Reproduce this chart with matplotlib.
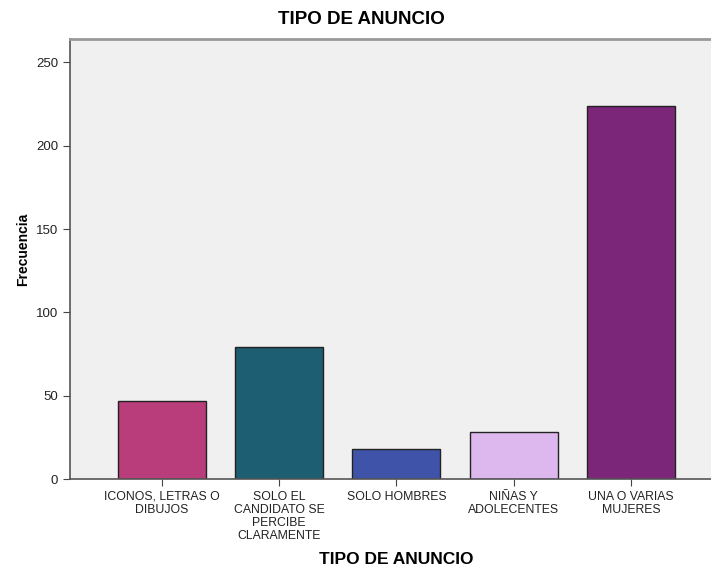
import matplotlib.pyplot as plt

plt.rcParams['font.family'] = ['Liberation Sans', 'DejaVu Sans']

categories = ["ICONOS, LETRAS O\nDIBUJOS", "SOLO EL\nCANDIDATO SE\nPERCIBE\nCLARAMENTE",
              "SOLO HOMBRES", "NIÑAS Y\nADOLECENTES", "UNA O VARIAS\nMUJERES"]
counts = [47, 79, 18, 28, 224]
colors = ["#B93D7A", "#1E5E72", "#3F54A8", "#DDB8EE", "#7B2679"]
yticks = [0, 50, 100, 150, 200, 250]

W, H = 711, 570
fig = plt.figure(figsize=(W / 100, H / 100), dpi=100)
ax = fig.add_axes([70 / W, 91 / H, 641 / W, 440 / H])
ax.set_facecolor("#F0F0F0")

x = range(len(categories))
ax.bar(x, counts, width=0.75, color=colors, edgecolor="#222222", linewidth=1)

ax.set_xlim(-0.78, 4.68)
ax.set_ylim(0, 264)
ax.set_yticks(yticks)
ax.set_xticks(list(x))
ax.set_xticklabels(categories, fontsize=8.8, linespacing=1.1)
ax.tick_params(axis='y', labelsize=9.5, length=5, color="#444444", labelcolor="#222222")
ax.tick_params(axis='x', length=5, color="#444444", labelcolor="#222222")

for side in ["left", "bottom"]:
    ax.spines[side].set_color("#555555")
    ax.spines[side].set_linewidth(1.2)
ax.spines["top"].set_color("#999999")
ax.spines["top"].set_linewidth(2)
ax.spines["right"].set_visible(False)

# title sits a bit left of the axes centre in the original
fig.text(361 / W, 1 - 20 / H, "TIPO DE ANUNCIO", fontsize=13.5, fontweight="bold",
         ha="center", va="center")
fig.text(396 / W, 1 - 560 / H, "TIPO DE ANUNCIO", fontsize=12.5, fontweight="bold",
         ha="center", va="center")
fig.text(23 / W, 1 - 249 / H, "Frecuencia", fontsize=10, fontweight="bold",
         rotation=90, ha="center", va="center")

fig.savefig("out.png", dpi=100)
